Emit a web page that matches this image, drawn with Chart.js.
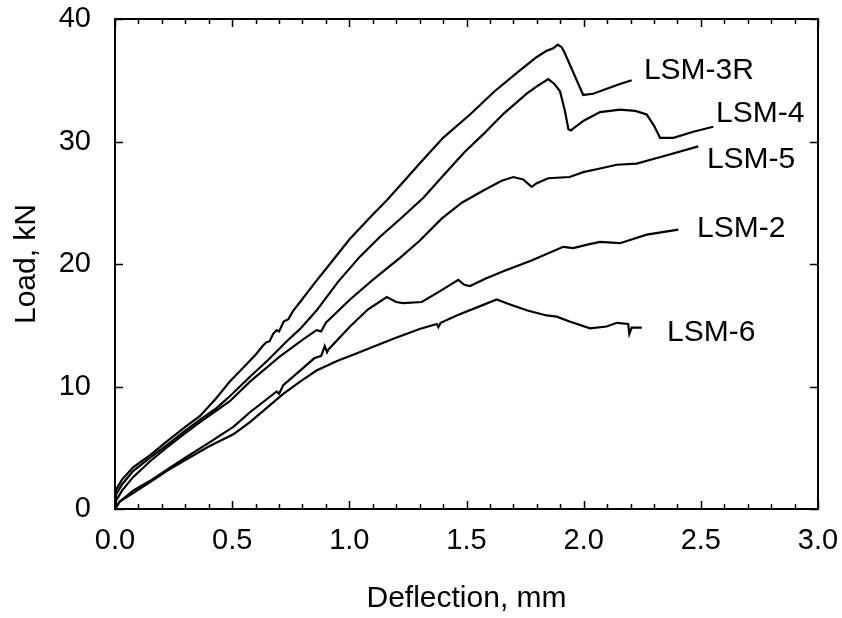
<!DOCTYPE html>
<html>
<head>
<meta charset="utf-8">
<script src="https://cdn.jsdelivr.net/npm/chart.js@4.4.1/dist/chart.umd.min.js"></script>
<style>
  html, body { margin: 0; padding: 0; background: #fff; }
  #chart { display: block; }
</style>
</head>
<body>
<canvas id="chart" width="842" height="618"></canvas>
<script>
// load-deflection curves (x in mm, y in kN)
const seriesNames = ['LSM-3R', 'LSM-4', 'LSM-5', 'LSM-2', 'LSM-6'];

const lsm3rX = [0, 0.005, 0.03, 0.077, 0.15, 0.22, 0.30, 0.363, 0.43, 0.49, 0.55, 0.60, 0.63, 0.645, 0.66, 0.675, 0.69, 0.70, 0.72, 0.74, 0.761, 0.79, 0.85, 0.917, 1.0, 1.088, 1.16, 1.23, 1.30, 1.40, 1.515, 1.62, 1.728, 1.80, 1.842, 1.87, 1.89, 1.906, 1.915, 1.998, 2.04, 2.084, 2.155, 2.205];
const lsm3rY = [0, 1.6, 2.4, 3.4, 4.4, 5.5, 6.7, 7.6, 9.0, 10.4, 11.6, 12.6, 13.3, 13.6, 13.7, 14.3, 14.6, 14.5, 15.3, 15.5, 16.2, 16.9, 18.4, 20.0, 22.0, 23.8, 25.2, 26.7, 28.2, 30.3, 32.2, 34.1, 35.8, 36.9, 37.4, 37.6, 37.9, 37.7, 37.4, 33.8, 33.9, 34.2, 34.7, 35.0];

const lsm4X = [0, 0.005, 0.03, 0.077, 0.15, 0.22, 0.30, 0.363, 0.43, 0.49, 0.576, 0.65, 0.733, 0.79, 0.86, 0.95, 1.045, 1.13, 1.23, 1.316, 1.40, 1.49, 1.572, 1.66, 1.757, 1.80, 1.849, 1.875, 1.899, 1.92, 1.935, 1.945, 2.0, 2.07, 2.155, 2.22, 2.269, 2.30, 2.326, 2.383, 2.468, 2.553];
const lsm4Y = [0, 1.2, 2.0, 3.1, 4.2, 5.2, 6.4, 7.3, 8.2, 9.2, 10.8, 12.1, 13.7, 14.7, 16.2, 18.5, 20.6, 22.2, 23.9, 25.4, 27.2, 29.1, 30.6, 32.3, 33.9, 34.5, 35.1, 34.7, 34.1, 32.5, 31.0, 30.9, 31.7, 32.4, 32.6, 32.5, 32.2, 31.3, 30.3, 30.3, 30.8, 31.2];

const lsm5X = [0, 0.005, 0.03, 0.077, 0.15, 0.22, 0.30, 0.363, 0.43, 0.49, 0.576, 0.70, 0.80, 0.86, 0.88, 0.90, 1.003, 1.10, 1.216, 1.30, 1.394, 1.48, 1.572, 1.65, 1.70, 1.742, 1.778, 1.80, 1.849, 1.94, 1.998, 2.07, 2.141, 2.226, 2.34, 2.489];
const lsm5Y = [0, 0.7, 1.5, 2.6, 3.9, 5.0, 6.2, 7.1, 8.0, 8.8, 10.4, 12.4, 13.8, 14.6, 14.5, 15.2, 17.1, 18.7, 20.5, 21.9, 23.7, 25.0, 26.0, 26.8, 27.1, 26.9, 26.3, 26.6, 27.0, 27.1, 27.5, 27.8, 28.1, 28.2, 28.8, 29.6];

const lsm2X = [0, 0.02, 0.077, 0.15, 0.22, 0.30, 0.40, 0.505, 0.576, 0.65, 0.69, 0.70, 0.718, 0.79, 0.85, 0.88, 0.895, 0.905, 0.91, 1.003, 1.08, 1.16, 1.20, 1.23, 1.309, 1.38, 1.465, 1.49, 1.515, 1.58, 1.657, 1.78, 1.913, 1.956, 2.02, 2.07, 2.155, 2.269, 2.404];
const lsm2Y = [0, 0.6, 1.5, 2.3, 3.2, 4.2, 5.4, 6.7, 7.9, 9.0, 9.6, 9.4, 10.1, 11.3, 12.3, 12.5, 13.3, 12.8, 13.0, 14.9, 16.3, 17.3, 16.9, 16.8, 16.9, 17.7, 18.7, 18.3, 18.2, 18.8, 19.4, 20.3, 21.4, 21.3, 21.6, 21.8, 21.7, 22.4, 22.8];

const lsm6X = [0, 0.02, 0.077, 0.15, 0.22, 0.30, 0.40, 0.505, 0.576, 0.65, 0.718, 0.79, 0.86, 0.95, 1.03, 1.11, 1.188, 1.30, 1.373, 1.38, 1.39, 1.458, 1.55, 1.629, 1.686, 1.76, 1.842, 1.885, 1.94, 2.027, 2.098, 2.141, 2.19, 2.195, 2.205, 2.248];
const lsm6Y = [0, 0.6, 1.3, 2.2, 3.1, 4.0, 5.1, 6.1, 7.1, 8.3, 9.4, 10.4, 11.3, 12.1, 12.7, 13.3, 13.9, 14.7, 15.1, 14.85, 15.2, 15.8, 16.5, 17.1, 16.7, 16.2, 15.8, 15.7, 15.3, 14.75, 14.9, 15.2, 15.1, 14.3, 14.8, 14.8];

// where each curve's name sits, in data units
const labelX = [2.257, 2.565, 2.526, 2.484, 2.356];
const labelY = [35.8, 32.3, 28.5, 22.9, 14.4];

const xTicks = [0, 0.5, 1.0, 1.5, 2.0, 2.5, 3.0];
const yTicks = [0, 10, 20, 30, 40];

const FONT = "'Liberation Sans', Arial, Helvetica, sans-serif";

function pairs(xs, ys) {
  return xs.map((x, i) => ({ x: x, y: ys[i] }));
}

const allX = [lsm3rX, lsm4X, lsm5X, lsm2X, lsm6X];
const allY = [lsm3rY, lsm4Y, lsm5Y, lsm2Y, lsm6Y];

// frame, inward ticks and curve names
const decorations = {
  id: 'decorations',
  afterDraw(chart) {
    const ctx = chart.ctx;
    const a = chart.chartArea;
    const xs = chart.scales.x, ys = chart.scales.y;
    ctx.save();
    ctx.strokeStyle = '#000';
    ctx.lineWidth = 1.5;
    ctx.beginPath();
    for (let i = 0; i <= 30; i++) {
      const px = Math.round(xs.getPixelForValue(i / 10)) + 0.5;
      const len = (i % 5 === 0) ? 8 : 5;
      ctx.moveTo(px, a.bottom); ctx.lineTo(px, a.bottom - len);
      ctx.moveTo(px, a.top); ctx.lineTo(px, a.top + len);
    }
    yTicks.forEach(v => {
      const py = Math.round(ys.getPixelForValue(v)) + 0.5;
      ctx.moveTo(a.left, py); ctx.lineTo(a.left + 8, py);
      ctx.moveTo(a.right, py); ctx.lineTo(a.right - 8, py);
    });
    ctx.stroke();
    ctx.lineWidth = 2;
    ctx.strokeRect(a.left, a.top, a.right - a.left, a.bottom - a.top);

    ctx.fillStyle = '#000';
    ctx.font = '30px ' + FONT;
    ctx.textAlign = 'left';
    ctx.textBaseline = 'middle';
    seriesNames.forEach((name, i) => {
      ctx.fillText(name, xs.getPixelForValue(labelX[i]), ys.getPixelForValue(labelY[i]));
    });
    ctx.restore();
  }
};

new Chart(document.getElementById('chart'), {
  type: 'scatter',
  data: {
    datasets: seriesNames.map((name, i) => ({
      label: name,
      data: pairs(allX[i], allY[i]),
      showLine: true,
      borderColor: '#000',
      borderWidth: 2.2,
      pointRadius: 0,
      tension: 0
    }))
  },
  options: {
    responsive: false,
    devicePixelRatio: 1,
    animation: false,
    layout: { padding: { left: 0, right: 24, top: 19, bottom: 0 } },
    plugins: { legend: { display: false }, tooltip: { enabled: false } },
    scales: {
      x: {
        type: 'linear', min: 0, max: 3,
        afterFit: s => { s.height = 109; s.paddingLeft = 0; s.paddingRight = 0; },
        afterBuildTicks: s => { s.ticks = xTicks.map(v => ({ value: v })); },
        grid: { display: false },
        border: { display: false },
        ticks: {
          padding: 7, color: '#000', maxRotation: 0,
          font: { family: FONT, size: 29 },
          callback: v => v.toFixed(1)
        },
        title: {
          display: true, text: 'Deflection, mm', color: '#000',
          font: { family: FONT, size: 30 }, padding: { top: 0, bottom: 1 }
        }
      },
      y: {
        type: 'linear', min: 0, max: 40,
        afterFit: s => { s.width = 115; s.paddingTop = 0; s.paddingBottom = 0; },
        afterBuildTicks: s => { s.ticks = yTicks.map(v => ({ value: v })); },
        grid: { display: false },
        border: { display: false },
        ticks: {
          padding: 16, color: '#000',
          font: { family: FONT, size: 29 }
        },
        title: {
          display: true, text: 'Load, kN', color: '#000',
          font: { family: FONT, size: 30 }, padding: { top: 9, bottom: 0 }
        }
      }
    }
  },
  plugins: [decorations]
});
</script>
</body>
</html>
